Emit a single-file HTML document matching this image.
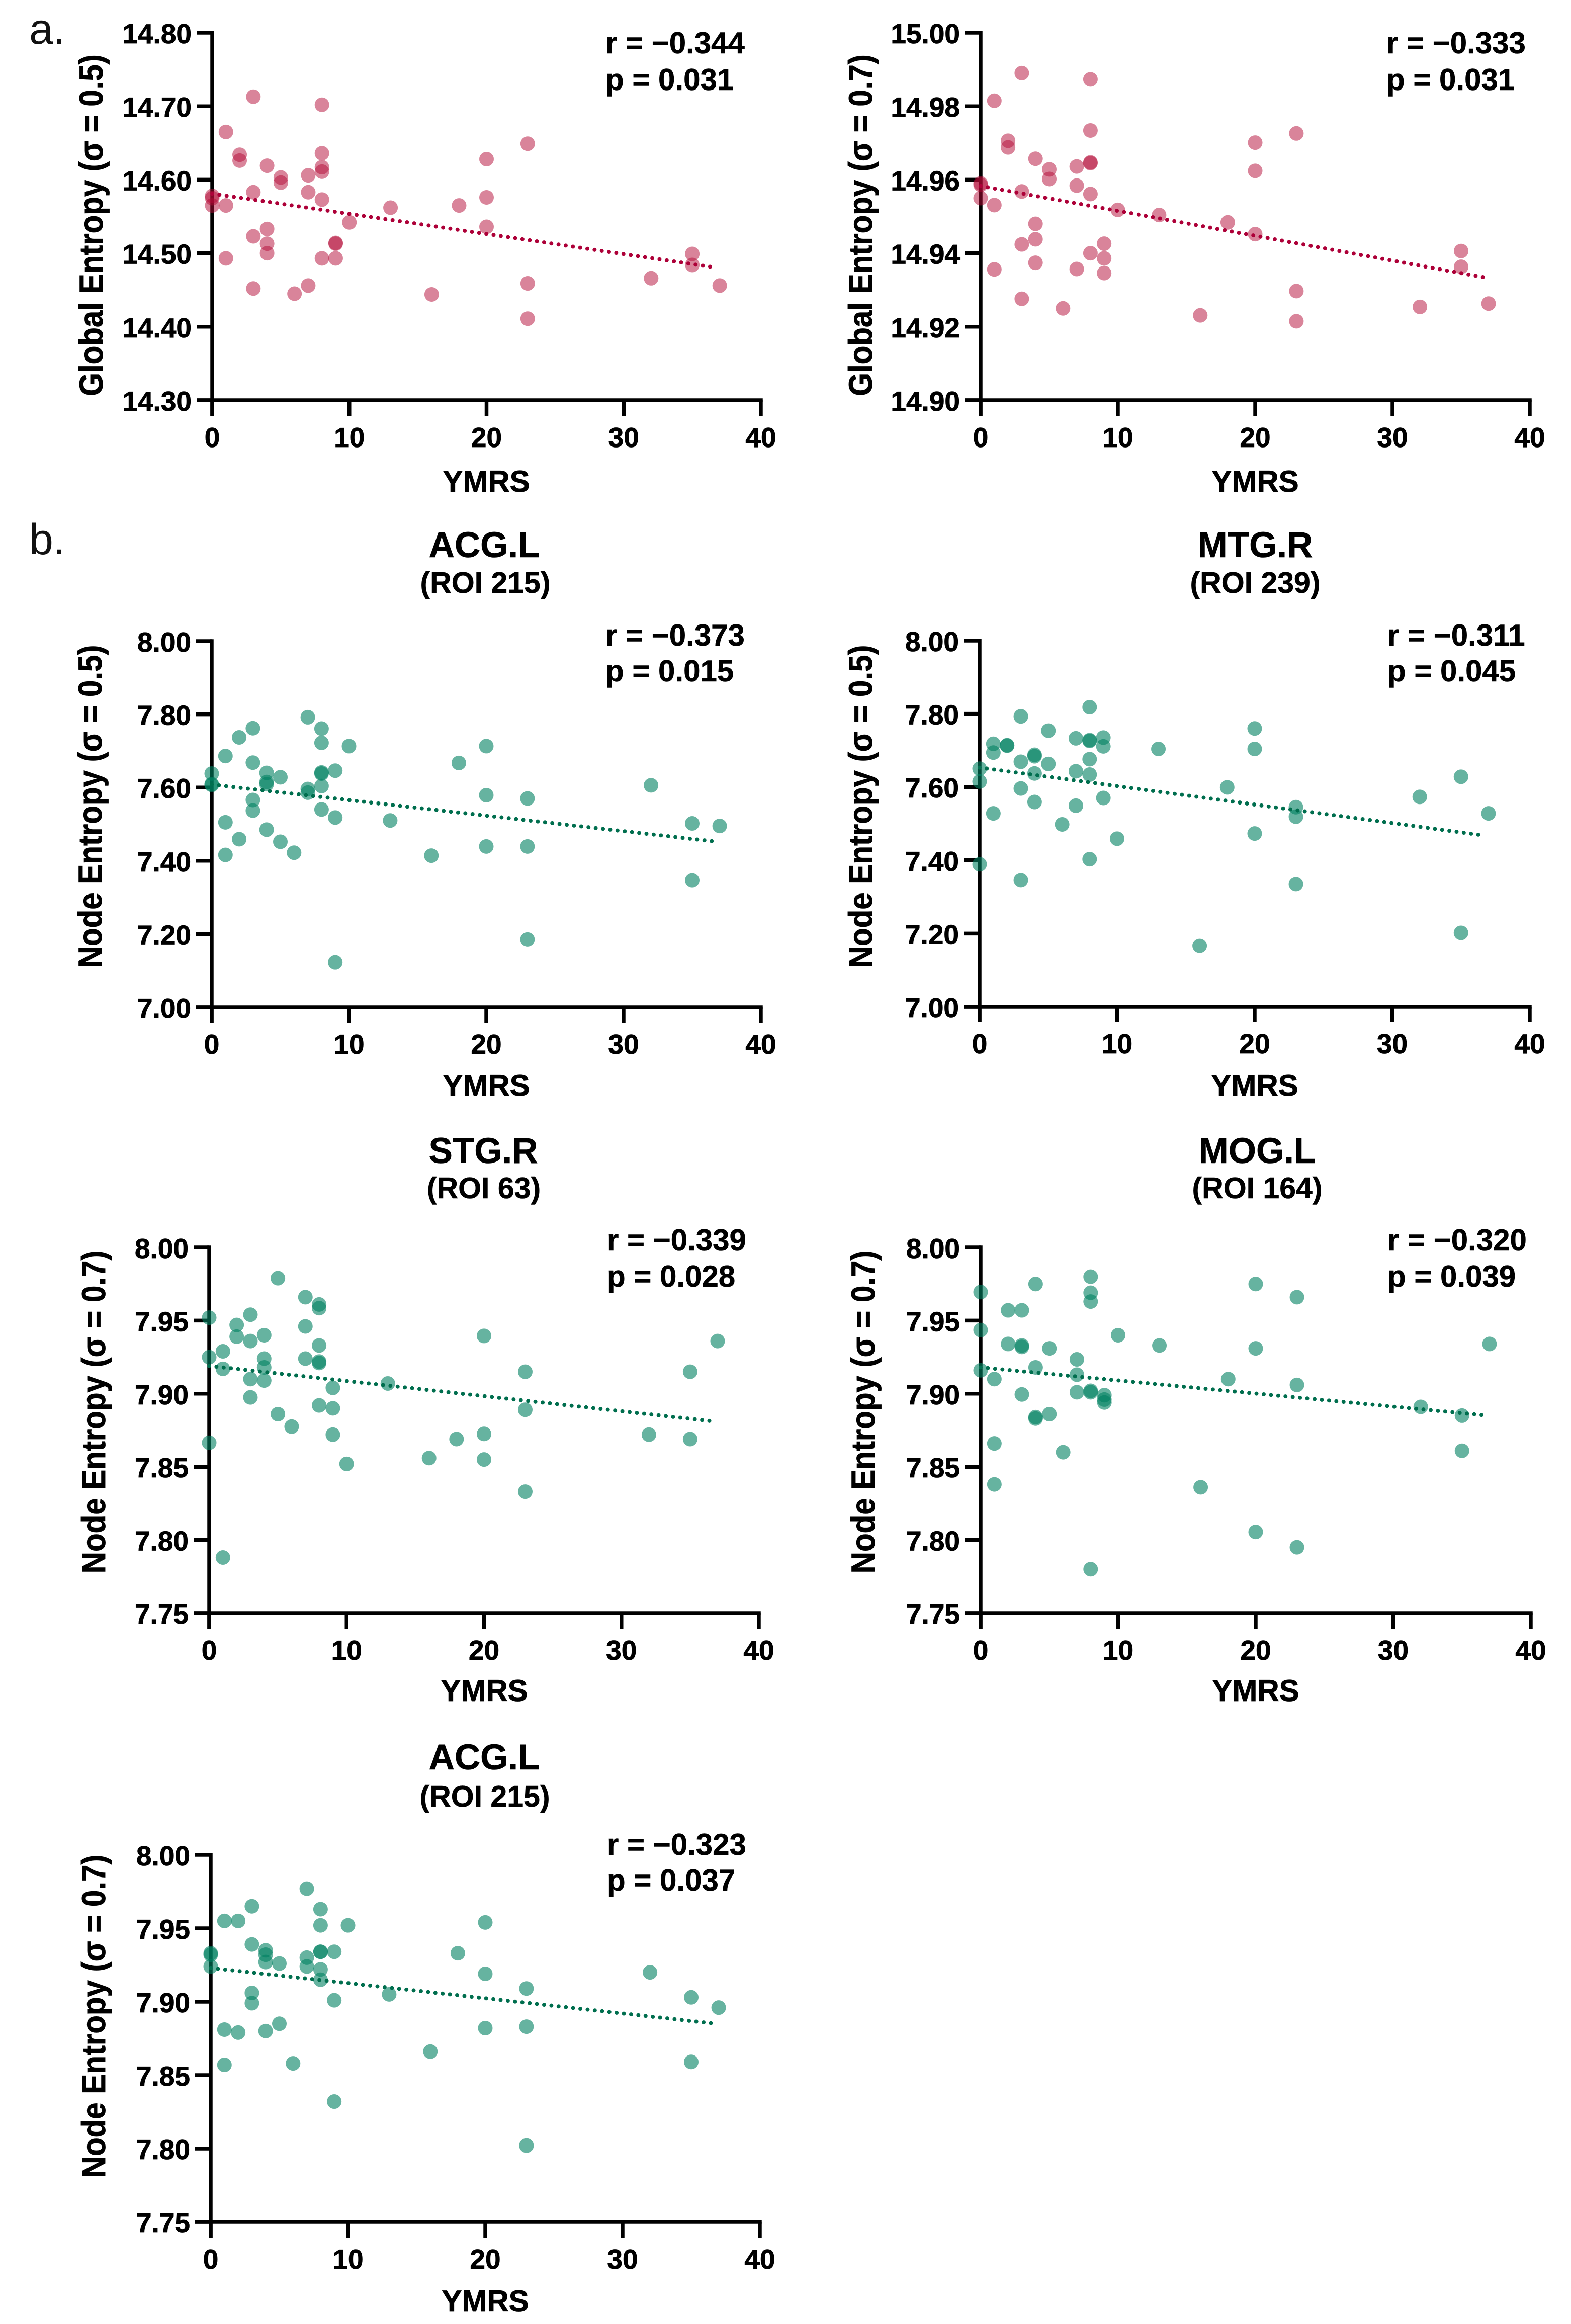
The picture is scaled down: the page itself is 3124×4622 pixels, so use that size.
<!DOCTYPE html>
<html lang="en">
<head>
<meta charset="utf-8">
<title>Entropy vs YMRS correlations</title>
<style>
html,body{margin:0;padding:0;background:#fff;}
svg{display:block;}
text{font-family:"Liberation Sans",Arial,sans-serif;fill:#000;}
.b{font-weight:700;}
.tick{font-size:55px;font-weight:700;stroke:#000;stroke-width:0.8px;}
.ax{font-size:60px;font-weight:700;stroke:#000;stroke-width:0.8px;}
.st{font-size:60px;font-weight:700;stroke:#000;stroke-width:0.6px;}
.t1{font-size:71px;font-weight:700;text-anchor:middle;stroke:#000;stroke-width:0.6px;}
.t2{font-size:59px;font-weight:700;text-anchor:middle;stroke:#000;stroke-width:0.6px;}
.let{font-size:86px;font-weight:400;fill:#111;}
</style>
</head>
<body>
<svg id="figure" xmlns="http://www.w3.org/2000/svg" width="3124" height="4622" viewBox="0 0 3124 4622">
<rect width="3124" height="4622" fill="#fff"/>
<text class="let" x="58" y="87">a.</text>
<text class="let" x="58" y="1102">b.</text>

<g id="p-global05">
<text class="st" x="1204" y="106">r = −0.344</text>
<text class="st" x="1204" y="179">p = 0.031</text>
<text class="ax" text-anchor="middle" x="967" y="978">YMRS</text>
<text class="ax" text-anchor="middle" transform="translate(204 448) rotate(-90) scale(1 1.1)">Global Entropy (σ = 0.5)</text>
</g>

<g id="p-global07">
<text class="st" x="2757" y="106">r = −0.333</text>
<text class="st" x="2757" y="179">p = 0.031</text>
<text class="ax" text-anchor="middle" x="2496" y="978">YMRS</text>
<text class="ax" text-anchor="middle" transform="translate(1734 448) rotate(-90) scale(1 1.1)">Global Entropy (σ = 0.7)</text>
</g>

<g id="p-acg05">
<text class="t1" x="963" y="1108">ACG.L</text>
<text class="t2" x="965" y="1179">(ROI 215)</text>
<text class="st" x="1204" y="1284">r = −0.373</text>
<text class="st" x="1204" y="1355">p = 0.015</text>
<text class="ax" text-anchor="middle" x="967" y="2179">YMRS</text>
<text class="ax" text-anchor="middle" transform="translate(202 1604) rotate(-90) scale(1 1.1)">Node Entropy (σ = 0.5)</text>
</g>

<g id="p-mtg05">
<text class="t1" x="2496" y="1108">MTG.R</text>
<text class="t2" x="2496" y="1179">(ROI 239)</text>
<text class="st" x="2759" y="1284">r = −0.311</text>
<text class="st" x="2759" y="1355">p = 0.045</text>
<text class="ax" text-anchor="middle" x="2495" y="2179">YMRS</text>
<text class="ax" text-anchor="middle" transform="translate(1734 1604) rotate(-90) scale(1 1.1)">Node Entropy (σ = 0.5)</text>
</g>

<g id="p-stg07">
<text class="t1" x="961" y="2313">STG.R</text>
<text class="t2" x="962" y="2383">(ROI 63)</text>
<text class="st" x="1207" y="2487">r = −0.339</text>
<text class="st" x="1207" y="2559">p = 0.028</text>
<text class="ax" text-anchor="middle" x="963" y="3383">YMRS</text>
<text class="ax" text-anchor="middle" transform="translate(209 2808) rotate(-90) scale(1 1.1)">Node Entropy (σ = 0.7)</text>
</g>

<g id="p-mog07">
<text class="t1" x="2500" y="2313">MOG.L</text>
<text class="t2" x="2500" y="2383">(ROI 164)</text>
<text class="st" x="2759" y="2487">r = −0.320</text>
<text class="st" x="2759" y="2559">p = 0.039</text>
<text class="ax" text-anchor="middle" x="2497" y="3383">YMRS</text>
<text class="ax" text-anchor="middle" transform="translate(1739 2808) rotate(-90) scale(1 1.1)">Node Entropy (σ = 0.7)</text>
</g>

<g id="p-acg07">
<text class="t1" x="963" y="3519">ACG.L</text>
<text class="t2" x="964" y="3593">(ROI 215)</text>
<text class="st" x="1207" y="3689">r = −0.323</text>
<text class="st" x="1207" y="3760">p = 0.037</text>
<text class="ax" text-anchor="middle" x="965" y="4597">YMRS</text>
<text class="ax" text-anchor="middle" transform="translate(209 4010) rotate(-90) scale(1 1.1)">Node Entropy (σ = 0.7)</text>
</g>
</svg>

<script>
// ---- chart data ----
const ymrs = [0,0,0,1,1,1,2,2,3,3,3,3,4,4,4,4,5,5,6,7,7,7,8,8,8,8,8,8,9,9,9,10,13,16,18,20,20,20,23,23,23,32,35,35,37];
const xTickLabels = ['0','10','20','30','40'];
const xDomain = [0,40];

const globalTicks05 = ['14.30','14.40','14.50','14.60','14.70','14.80'];
const globalTicks07 = ['14.90','14.92','14.94','14.96','14.98','15.00'];
const nodeTicks05 = ['7.00','7.20','7.40','7.60','7.80','8.00'];
const nodeTicks07 = ['7.75','7.80','7.85','7.90','7.95','8.00'];

const globalEntropy05 = [14.578,14.575,14.565,14.665,14.565,14.493,14.634,14.626,14.713,14.583,14.523,14.452,14.619,14.533,14.513,14.500,14.603,14.596,14.445,14.606,14.583,14.456,14.702,14.636,14.617,14.611,14.573,14.493,14.514,14.513,14.493,14.542,14.562,14.444,14.565,14.628,14.576,14.536,14.649,14.459,14.411,14.466,14.499,14.484,14.456];
const globalEntropy07 = [14.959,14.9586,14.955,14.9815,14.9531,14.9356,14.9706,14.9688,14.989,14.9568,14.9424,14.9276,14.9657,14.948,14.9438,14.9374,14.9628,14.9602,14.925,14.9636,14.9584,14.9357,14.9873,14.9734,14.9647,14.9645,14.9561,14.94,14.9426,14.9386,14.9346,14.9518,14.9504,14.9231,14.9484,14.9701,14.9624,14.9452,14.9726,14.9297,14.9215,14.9254,14.9406,14.9363,14.9263];
const acgEntropy05 = [7.638,7.609,7.607,7.686,7.505,7.416,7.737,7.459,7.762,7.668,7.566,7.537,7.640,7.615,7.609,7.485,7.628,7.452,7.422,7.792,7.596,7.586,7.761,7.722,7.641,7.638,7.604,7.540,7.646,7.518,7.122,7.713,7.510,7.414,7.667,7.713,7.579,7.439,7.570,7.439,7.185,7.606,7.502,7.346,7.495];
const mtgEntropy05 = [7.650,7.615,7.389,7.718,7.694,7.528,7.714,7.713,7.793,7.669,7.596,7.345,7.688,7.684,7.637,7.559,7.754,7.663,7.498,7.733,7.643,7.549,7.818,7.728,7.726,7.676,7.634,7.403,7.735,7.711,7.570,7.459,7.704,7.166,7.599,7.760,7.704,7.473,7.545,7.519,7.334,7.573,7.628,7.202,7.528];
const stgEntropy07 = [7.952,7.925,7.8665,7.929,7.917,7.788,7.947,7.939,7.954,7.936,7.910,7.8975,7.940,7.924,7.918,7.909,7.979,7.886,7.8775,7.966,7.946,7.924,7.961,7.9585,7.933,7.922,7.921,7.892,7.904,7.890,7.872,7.852,7.907,7.856,7.869,7.9395,7.8725,7.855,7.915,7.889,7.833,7.872,7.915,7.869,7.936];
const mogEntropy07 = [7.9695,7.9435,7.916,7.910,7.866,7.838,7.957,7.934,7.957,7.933,7.932,7.8995,7.975,7.918,7.884,7.883,7.931,7.886,7.860,7.9235,7.913,7.901,7.980,7.969,7.963,7.902,7.901,7.780,7.899,7.896,7.894,7.940,7.933,7.836,7.910,7.975,7.931,7.8055,7.966,7.906,7.795,7.891,7.885,7.861,7.934];
const acgEntropy07 = [7.933,7.932,7.924,7.955,7.881,7.857,7.955,7.879,7.965,7.939,7.906,7.899,7.935,7.932,7.927,7.880,7.926,7.885,7.858,7.977,7.930,7.924,7.963,7.952,7.934,7.934,7.922,7.915,7.934,7.901,7.832,7.952,7.905,7.866,7.933,7.954,7.919,7.882,7.909,7.883,7.802,7.920,7.903,7.859,7.896];

const trendXGlobal05 = [0,36.5];
const trendYGlobal05 = [14.581,14.481];
const trendXGlobal07 = [0,36.9];
const trendYGlobal07 = [14.9583,14.9333];
const trendXAcg05 = [0,36.8];
const trendYAcg05 = [7.608,7.452];
const trendXMtg05 = [0,36.65];
const trendYMtg05 = [7.653,7.468];
const trendXStg07 = [0,36.8];
const trendYStg07 = [7.919,7.881];
const trendXMog07 = [0,36.9];
const trendYMog07 = [7.918,7.885];
const trendXAcg07 = [0,36.8];
const trendYAcg07 = [7.923,7.885];

// ---- drawing ----
const NS = 'http://www.w3.org/2000/svg';
const RED = {fill:'#b30935', alpha:0.5, line:'#ad0038'};
const GREEN = {fill:'#008060', alpha:0.6, line:'#006e4e'};

function mk(parent, tag, attrs){
  const el = document.createElementNS(NS, tag);
  for (const k in attrs) el.setAttribute(k, attrs[k]);
  parent.appendChild(el);
  return el;
}

function drawPanel(id, frame, xs, ys, yLabels, trendX, trendY, color){
  const g = document.getElementById(id);
  const yMin = Number(yLabels[0]);
  const yMax = Number(yLabels[yLabels.length-1]);
  const xScale = v => frame.left + (v - xDomain[0]) / (xDomain[1] - xDomain[0]) * (frame.right - frame.left);
  const yScale = v => frame.bottom - (v - yMin) / (yMax - yMin) * (frame.bottom - frame.top);

  const yAxis = mk(g, 'line', {x1:xScale(xDomain[0]), x2:xScale(xDomain[0]), y1:frame.top-3.75, y2:frame.bottom+31, stroke:'#000', 'stroke-width':7.5});
  
  

  const xAxis = mk(g, 'line', {x1:frame.left-31, x2:frame.right+3.75, y1:frame.bottom, y2:frame.bottom, stroke:'#000', 'stroke-width':7.5});
  
  

  yLabels.forEach(lab => {
    const y = yScale(Number(lab));
    const tk = mk(g, 'line', {x1:frame.left-31, x2:frame.left, y1:y, y2:y, stroke:'#000', 'stroke-width':7.5});
    
    
    const tx = mk(g, 'text', {x:frame.left-41, y:y+21, 'text-anchor':'end', class:'tick'});
    
    
    tx.textContent = lab;
  });

  xTickLabels.forEach(lab => {
    const x = xScale(Number(lab));
    const tk = mk(g, 'line', {x1:x, x2:x, y1:frame.bottom, y2:frame.bottom+31, stroke:'#000', 'stroke-width':7.5});
    
    
    const tx = mk(g, 'text', {x:x, y:frame.bottom+93, 'text-anchor':'middle', class:'tick'});
    
    
    tx.textContent = lab;
  });

  xs.forEach((xv, i) => {
    const dot = mk(g, 'circle', {cx:xScale(xv), cy:yScale(ys[i]), r:14.5, fill:color.fill, 'fill-opacity':color.alpha});
    
    
  });

  const trend = mk(g, 'line', {x1:xScale(trendX[0]), y1:yScale(trendY[0]), x2:xScale(trendX[1]), y2:yScale(trendY[1]), stroke:color.line, 'stroke-width':8, 'stroke-linecap':'round', 'stroke-dasharray':'0 14.5'});
  
  
}

drawPanel('p-global05', {left:422,right:1513,top:65,bottom:796}, ymrs, globalEntropy05, globalTicks05, trendXGlobal05, trendYGlobal05, RED);
drawPanel('p-global07', {left:1950,right:3042,top:65,bottom:796}, ymrs, globalEntropy07, globalTicks07, trendXGlobal07, trendYGlobal07, RED);
drawPanel('p-acg05', {left:421,right:1513,top:1275,bottom:2003}, ymrs, acgEntropy05, nodeTicks05, trendXAcg05, trendYAcg05, GREEN);
drawPanel('p-mtg05', {left:1948,right:3042,top:1274,bottom:2002}, ymrs, mtgEntropy05, nodeTicks05, trendXMtg05, trendYMtg05, GREEN);
drawPanel('p-stg07', {left:416,right:1509,top:2481,bottom:3208}, ymrs, stgEntropy07, nodeTicks07, trendXStg07, trendYStg07, GREEN);
drawPanel('p-mog07', {left:1950,right:3044,top:2481,bottom:3208}, ymrs, mogEntropy07, nodeTicks07, trendXMog07, trendYMog07, GREEN);
drawPanel('p-acg07', {left:419,right:1511,top:3689,bottom:4419}, ymrs, acgEntropy07, nodeTicks07, trendXAcg07, trendYAcg07, GREEN);
</script>
</body>
</html>
